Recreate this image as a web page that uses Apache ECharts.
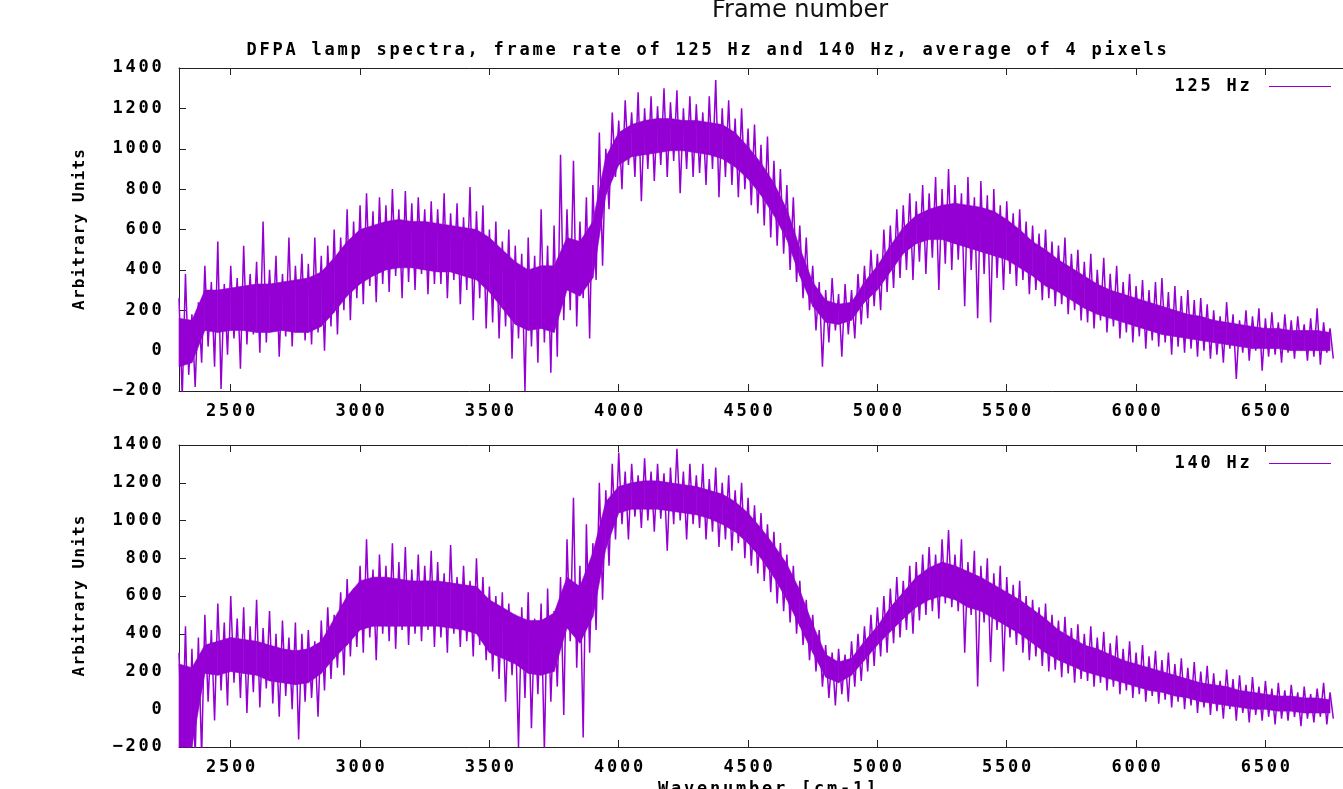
<!DOCTYPE html>
<html>
<head>
<meta charset="utf-8">
<script src="https://cdn.jsdelivr.net/npm/echarts@6/dist/echarts.min.js"></script>
<style>
  html, body { margin: 0; background: #fff; }
  #chart { width: 1343px; height: 789px; }
</style>
</head>
<body>
<div id="chart"></div>
<script>
// ******** DFPA lamp spectra, two frame rates ********
var chart = echarts.init(document.getElementById('chart'));

var titleText = 'DFPA lamp spectra, frame rate of 125 Hz and 140 Hz, average of 4 pixels';
var xAxisTitle = 'Wavenumber [cm-1]';
var seriesNames = ['125 Hz', '140 Hz'];
var xTickValues = [2500, 3000, 3500, 4000, 4500, 5000, 5500, 6000, 6500];

// sample grid (cm-1), one row per 500
var wavenumbers = [
  2300, 2325, 2350, 2375, 2400, 2425, 2450, 2475, 2500, 2525, 2550, 2575, 2600, 2625, 2650, 2675, 2700, 2725, 2750, 2775,
  2800, 2825, 2850, 2875, 2900, 2925, 2950, 2975, 3000, 3025, 3050, 3075, 3100, 3125, 3150, 3175, 3200, 3225, 3250, 3275,
  3300, 3325, 3350, 3375, 3400, 3425, 3450, 3475, 3500, 3525, 3550, 3575, 3600, 3625, 3650, 3675, 3700, 3725, 3750, 3775,
  3800, 3825, 3850, 3875, 3900, 3925, 3950, 3975, 4000, 4025, 4050, 4075, 4100, 4125, 4150, 4175, 4200, 4225, 4250, 4275,
  4300, 4325, 4350, 4375, 4400, 4425, 4450, 4475, 4500, 4525, 4550, 4575, 4600, 4625, 4650, 4675, 4700, 4725, 4750, 4775,
  4800, 4825, 4850, 4875, 4900, 4925, 4950, 4975, 5000, 5025, 5050, 5075, 5100, 5125, 5150, 5175, 5200, 5225, 5250, 5275,
  5300, 5325, 5350, 5375, 5400, 5425, 5450, 5475, 5500, 5525, 5550, 5575, 5600, 5625, 5650, 5675, 5700, 5725, 5750, 5775,
  5800, 5825, 5850, 5875, 5900, 5925, 5950, 5975, 6000, 6025, 6050, 6075, 6100, 6125, 6150, 6175, 6200, 6225, 6250, 6275,
  6300, 6325, 6350, 6375, 6400, 6425, 6450, 6475, 6500, 6525, 6550, 6575, 6600, 6625, 6650, 6675, 6700, 6725, 6750
];
// the dense core of the trace is read every other sample (every 50 cm-1)
var coreWavenumbers = wavenumbers.filter(function (w, i) { return i % 2 === 0; });

// 125 Hz: upper / lower swing of the noisy trace at each sample
var hi125 = [
  260, 380, 180, 240, 420, 340, 540, 330, 420, 360, 520, 380, 440, 640, 400, 470, 380, 560, 420, 480,
  430, 560, 470, 520, 600, 560, 700, 640, 720, 780, 690, 760, 720, 800, 700, 790, 730, 760, 700, 740,
  700, 780, 680, 730, 660, 810, 690, 720, 600, 640, 540, 600, 520, 480, 560, 470, 700, 520, 620, 970,
  700, 940, 640, 760, 820, 1080, 1000, 1180, 1140, 1240, 1180, 1280, 1200, 1260, 1210, 1300, 1230, 1290, 1200, 1260,
  1220, 1180, 1260, 1340, 1200, 1240, 1150, 1200, 1100, 1120, 1020, 1060, 940, 900, 820, 760, 620, 560, 420, 340,
  300, 360, 280, 330, 300, 380, 420, 500, 480, 600, 620, 700, 720, 780, 740, 820, 780, 860, 800, 900,
  820, 780, 860, 760, 840, 770, 800, 720, 740, 680, 700, 640, 620, 580, 600, 540, 520, 560, 480, 500,
  440, 480, 400, 460, 380, 420, 340, 380, 320, 350, 300, 340, 360, 290, 320, 270, 300, 250, 260, 230,
  200, 170, 240, 180, 150, 200, 170, 210, 160, 190, 140, 180, 150, 170, 130, 160, 210, 140, 110
];
var lo125 = [
  -230, -120, -180, -60, 20, -80, -190, -20, 60, -90, 30, 80, -10, 40, 100, -30, 70, 20, 110, 50,
  30, 90, 0, 120, 80, 200, 150, 260, 230, 320, 240, 330, 290, 370, 260, 340, 300, 380, 280, 330,
  330, 260, 350, 230, 300, 150, 260, 110, 140, 60, 120, -40, 60, -200, 20, -60, 40, -110, -30, 150,
  200, 120, 260, 60, 350, 420, 700, 860, 800, 920, 860, 740, 900, 840, 920, 860, 940, 780, 900, 860,
  880, 820, 900, 760, 860, 820, 760, 800, 720, 680, 620, 560, 520, 480, 400, 340, 260, 200, 100, -80,
  40, 100, -30, 80, 60, 130, 160, 220, 200, 290, 310, 360, 400, 350, 440, 380, 460, 300, 430, 400,
  450, 220, 400, 160, 380, 140, 360, 300, 380, 320, 350, 280, 300, 250, 260, 220, 230, 180, 200, 150,
  140, 110, 150, 90, 120, 60, 90, 40, 70, 10, 50, 20, 40, -20, 20, -10, 10, -30, 0, -40,
  -20, -60, 10, -140, -10, -50, 0, -100, -30, -20, -60, -10, -40, 0, -50, -30, -70, -10, -40
];
// 125 Hz: top / bottom of the solid core, every 50 cm-1
var coreHi125 = [
  160, 150, 300, 300, 310, 320, 330, 330, 340, 350,
  360, 390, 460, 540, 600, 620, 640, 650, 640, 640,
  630, 620, 610, 600, 560, 500, 440, 400, 420, 420,
  560, 540, 640, 960, 1080, 1120, 1140, 1150, 1150, 1140,
  1140, 1130, 1120, 1080, 1010, 930, 830, 700, 510, 340,
  250, 230, 240, 340, 420, 520, 610, 670, 700, 720,
  730, 720, 710, 690, 650, 600, 540, 500, 450, 410,
  370, 330, 300, 280, 260, 240, 220, 200, 180, 170,
  150, 140, 130, 120, 110, 110, 100, 100, 100, 90
];
var coreLo125 = [
  -80, -60, 100, 90, 100, 100, 90, 90, 100, 90,
  90, 120, 190, 270, 330, 370, 400, 410, 410, 400,
  390, 390, 370, 350, 290, 210, 130, 100, 110, 90,
  300, 270, 360, 770, 920, 960, 970, 980, 990, 990,
  980, 970, 950, 910, 850, 770, 670, 550, 370, 220,
  140, 130, 150, 240, 300, 390, 480, 530, 550, 550,
  530, 510, 490, 470, 450, 410, 370, 320, 290, 250,
  210, 180, 160, 140, 120, 100, 80, 70, 60, 50,
  40, 30, 20, 10, 10, 10, 0, 0, 0, 0
];

// 140 Hz
var hi140 = [
  300, 440, 320, 380, 500, 420, 560, 460, 600, 480, 540, 440, 580, 430, 520, 400, 470, 380, 460, 400,
  420, 360, 470, 540, 500, 620, 690, 640, 760, 900, 740, 820, 760, 880, 780, 860, 740, 820, 760, 840,
  780, 720, 870, 700, 760, 680, 800, 700, 650, 600, 620, 560, 500, 540, 620, 480, 560, 640, 520, 700,
  900, 1120, 760, 980, 880, 1200, 1160, 1300, 1360, 1260, 1300, 1240, 1330, 1260, 1300, 1250, 1280, 1380, 1260, 1300,
  1240, 1300, 1220, 1280, 1200, 1240, 1160, 1200, 1120, 1080, 1040, 980, 940, 880, 820, 760, 680, 580, 500, 420,
  340, 300, 320, 290, 360, 400, 440, 500, 540, 600, 640, 700, 680, 760, 780, 820, 860, 820, 900, 950,
  820, 900, 780, 840, 760, 800, 720, 760, 700, 660, 680, 600, 580, 540, 560, 500, 470, 490, 430, 450,
  400, 440, 380, 410, 350, 390, 320, 360, 300, 340, 280, 310, 260, 300, 240, 270, 220, 250, 200, 230,
  190, 150, 210, 160, 180, 130, 170, 120, 150, 110, 140, 100, 130, 90, 120, 80, 110, 140, 90
];
var lo140 = [
  -250, -250, -250, -250, 40, -60, 100, 20, 140, 60, -20, 90, 10, 110, 30, -40, 70, 0, -160, 40,
  60, -40, 100, 160, 220, 180, 280, 330, 300, 380, 260, 400, 360, 320, 420, 340, 400, 360, 420, 330,
  380, 300, 400, 330, 360, 280, 340, 260, 200, 160, 40, 180, -200, 60, -100, 80, -220, 40, 120, -30,
  360, 220, -150, 300, 420, 580, 760, 900, 980, 900, 1020, 960, 1000, 940, 1010, 840, 980, 1000, 900, 980,
  960, 900, 940, 860, 900, 840, 880, 800, 760, 720, 680, 620, 560, 520, 460, 400, 340, 260, 200, 120,
  60, 20, 80, 40, 120, 150, 200, 230, 280, 300, 350, 380, 420, 400, 470, 500, 520, 480, 560, 540,
  520, 300, 500, 120, 460, 250, 420, 200, 380, 340, 300, 260, 280, 230, 200, 210, 170, 190, 140, 160,
  150, 120, 140, 100, 120, 80, 100, 60, 80, 40, 70, 30, 50, 10, 40, 0, 20, -20, 10, -30,
  -10, -50, 0, -60, -20, -70, -30, -60, -40, -80, -50, -60, -40, -90, -50, -70, -40, -80, -50
];
var coreHi140 = [
  240, 220, 340, 360, 380, 370, 360, 340, 320, 310,
  320, 360, 480, 600, 680, 700, 700, 690, 680, 680,
  680, 670, 660, 650, 580, 540, 500, 470, 470, 510,
  700, 650, 830, 1100, 1180, 1200, 1210, 1210, 1200, 1190,
  1180, 1160, 1140, 1100, 1040, 960, 870, 770, 630, 450,
  290, 250, 270, 360, 440, 540, 620, 700, 750, 780,
  760, 730, 700, 660, 620, 580, 530, 480, 420, 380,
  340, 320, 290, 260, 240, 220, 200, 180, 160, 140,
  130, 120, 100, 90, 80, 70, 70, 60, 60, 50
];
var coreLo140 = [
  -250, -250, 190, 180, 200, 190, 180, 150, 140, 130,
  140, 190, 270, 340, 420, 440, 440, 440, 440, 440,
  440, 430, 420, 400, 300, 270, 240, 190, 180, 200,
  430, 350, 490, 850, 1040, 1060, 1060, 1060, 1050, 1040,
  1030, 1010, 980, 940, 880, 800, 700, 580, 440, 300,
  170, 140, 180, 260, 340, 410, 480, 540, 580, 600,
  580, 540, 520, 480, 440, 400, 350, 300, 260, 230,
  200, 180, 160, 140, 120, 100, 90, 70, 60, 40,
  30, 20, 10, 0, 0, -10, -10, -20, -20, -20
];

var lineColor = '#9400d3';
var axisColor = '#222';

// gnuplot-ish fixed pitch text: every char in its own cell
var cellStyle = {
  c: { width: 13, align: 'center', fontFamily: 'DejaVu Sans Mono', fontWeight: 'bold', fontSize: 17, color: '#000', lineHeight: 18 },
  n: { width: 10.8, align: 'center', fontFamily: 'DejaVu Sans Mono', fontWeight: 'bold', fontSize: 16, color: '#000', lineHeight: 18 }
};
function mono(s, key) {
  key = key || 'c';
  return s.split('').map(function (ch) { return '{' + key + '|' + ch + '}'; }).join('');
}
function numLabel(v) {
  return mono(String(v).replace('-', '\u2212'));
}

// upper swing at the sample, lower swing half a step later
function trace(hi, lo) {
  var out = [];
  for (var i = 0; i < wavenumbers.length; i++) {
    out.push([wavenumbers[i], hi[i]]);
    out.push([wavenumbers[i] + 12.5, lo[i]]);
  }
  return out;
}

// solid core: one filled quad between neighbouring core samples
function coreBand(coreHi, coreLo) {
  return function (params, api) {
    var i = params.dataIndex;
    if (i >= coreWavenumbers.length - 1) return null;
    var pts = [
      api.coord([coreWavenumbers[i], coreHi[i]]),
      api.coord([coreWavenumbers[i + 1], coreHi[i + 1]]),
      api.coord([coreWavenumbers[i + 1], coreLo[i + 1]]),
      api.coord([coreWavenumbers[i], coreLo[i]])
    ];
    var cs = params.coordSys;
    pts = echarts.graphic.clipPointsByRect(pts, { x: cs.x, y: cs.y, width: cs.width, height: cs.height });
    return {
      type: 'polygon',
      shape: { points: pts },
      style: { fill: lineColor, stroke: lineColor, lineWidth: 0.6 }
    };
  };
}

function bottomAxis(g) {
  return {
    type: 'value', gridIndex: g, position: 'bottom', min: 2300, max: 6800,
    axisLine: { show: true, onZero: false, lineStyle: { color: axisColor, width: 1 } },
    axisTick: { show: true, inside: true, length: 7, customValues: xTickValues, lineStyle: { color: axisColor } },
    axisLabel: { show: true, customValues: xTickValues, margin: 12, formatter: numLabel, rich: cellStyle },
    splitLine: { show: false }
  };
}
function topAxis(g) {
  return {
    type: 'value', gridIndex: g, position: 'top', min: 2300, max: 6800,
    axisLine: { show: true, onZero: false, lineStyle: { color: axisColor, width: 1 } },
    axisTick: { show: true, inside: true, length: 7, customValues: xTickValues, lineStyle: { color: axisColor } },
    axisLabel: { show: false },
    splitLine: { show: false }
  };
}
function leftAxis(g) {
  return {
    type: 'value', gridIndex: g, min: -200, max: 1400, interval: 200,
    axisLine: { show: true, onZero: false, lineStyle: { color: axisColor, width: 1 } },
    axisTick: { show: true, inside: true, length: 7, lineStyle: { color: axisColor } },
    axisLabel: { margin: 16, formatter: numLabel, rich: cellStyle },
    splitLine: { show: false },
    name: mono('Arbitrary Units', 'n'), nameLocation: 'middle', nameRotate: 90, nameGap: 90,
    nameTextStyle: { rich: cellStyle }
  };
}
function legendFor(name, top) {
  return {
    data: [name], right: 7, top: top, align: 'right', icon: 'rect',
    itemWidth: 62, itemHeight: 1, selectedMode: false,
    formatter: function (n) { return mono(n + ' '); },
    textStyle: { rich: cellStyle }
  };
}
function panelSeries(name, axisIdx, gridIdx, hi, lo, coreHi, coreLo) {
  return [{
    type: 'custom', xAxisIndex: axisIdx, yAxisIndex: gridIdx, silent: true,
    renderItem: coreBand(coreHi, coreLo),
    data: coreWavenumbers.map(function (x, i) { return [x, coreLo[i], coreHi[i]]; }),
    encode: { x: 0, y: [1, 2] }
  }, {
    name: name, type: 'line', xAxisIndex: axisIdx, yAxisIndex: gridIdx,
    data: trace(hi, lo), showSymbol: false, silent: true,
    lineStyle: { color: lineColor, width: 1.5 }, itemStyle: { color: lineColor }
  }];
}

option = {
  animation: false,
  backgroundColor: '#fff',
  title: {
    text: mono(titleText), left: 240, top: 37,
    textStyle: { rich: cellStyle }
  },
  graphic: [{
    type: 'text', x: 800, y: 11,
    style: {
      text: 'Frame number', fontFamily: 'DejaVu Sans', fontSize: 24,
      fill: '#111', align: 'center', verticalAlign: 'middle'
    }
  }, {
    // x axis title of the lower panel, mostly below the picture edge
    type: 'text', x: 767, y: 781,
    style: {
      text: mono(xAxisTitle), rich: cellStyle,
      align: 'center', verticalAlign: 'top'
    }
  }],
  legend: [legendFor(seriesNames[0], 73), legendFor(seriesNames[1], 450)],
  grid: [
    { left: 179, top: 68, right: -13, height: 323 },
    { left: 179, top: 445, right: -13, height: 302 }
  ],
  xAxis: [bottomAxis(0), topAxis(0), bottomAxis(1), topAxis(1)],
  yAxis: [leftAxis(0), leftAxis(1)],
  series: panelSeries(seriesNames[0], 0, 0, hi125, lo125, coreHi125, coreLo125)
    .concat(panelSeries(seriesNames[1], 2, 1, hi140, lo140, coreHi140, coreLo140))
};
chart.setOption(option);
</script>
</body>
</html>
